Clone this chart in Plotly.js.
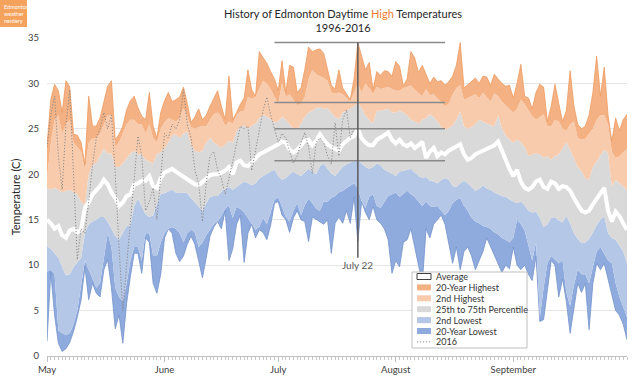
<!DOCTYPE html>
<html><head><meta charset="utf-8">
<script src="https://cdn.plot.ly/plotly-3.0.1.min.js"></script>
<style>html,body{margin:0;padding:0;background:#fff}#chart{width:640px;height:388px}</style>
</head><body><div id="chart"></div>
<script>
const monthTickDates = ['2016-05-01','2016-06-01','2016-07-01','2016-08-01','2016-09-01'];
const monthLabels = ['May','June','July','August','September'];
const markedDate = '2016-07-22';
const markedLabel = 'July 22';

const highest20 = [23.1,28.2,29.9,29.2,26.8,30.3,29.6,24.4,24.3,23.5,
21.1,28.6,25.3,25.3,26.2,27.9,29.7,30.3,23.8,24.4,
25.3,27.1,28.1,28.6,27.3,26.4,26.0,29.0,25.3,24.0,
26.8,28.1,29.0,28.0,28.2,28.5,29.6,27.8,25.7,26.3,
27.2,26.0,26.5,27.5,28.3,29.2,27.5,26.0,30.8,26.0,
26.8,27.7,28.4,31.5,29.3,28.6,33.5,32.8,32.2,31.3,
30.5,29.2,32.5,29.0,32.0,31.8,29.0,29.5,31.5,34.0,
33.5,33.7,33.8,33.3,31.6,29.8,29.4,31.5,29.5,28.9,
28.2,30.5,34.5,33.0,31.5,32.3,29.3,31.3,30.9,31.4,
31.3,30.8,32.4,31.9,29.7,30.5,33.5,32.8,31.2,32.0,
31.0,30.0,30.7,30.2,30.3,29.8,30.2,30.8,32.0,34.5,
29.5,29.9,30.2,30.6,30.0,30.8,30.7,29.8,31.0,30.5,
30.0,29.7,29.8,28.4,30.0,32.1,28.6,28.4,27.2,29.0,
29.9,29.6,25.8,27.5,29.9,27.8,25.8,27.0,31.4,27.5,
25.5,25.0,25.3,26.5,29.0,33.0,28.6,31.8,26.5,23.6,
26.2,24.8,26.0,26.6];

const highest2 = [19.5,23.5,26.0,26.5,24.5,25.5,26.0,23.5,23.0,22.5,
20.5,23.5,24.0,24.0,24.5,25.5,26.5,26.5,23.0,23.5,
24.5,25.5,26.0,26.0,25.5,25.5,24.5,25.5,24.0,23.5,
25.0,25.7,26.2,26.0,25.8,26.2,27.3,26.3,25.2,25.0,
25.2,25.3,25.3,26.0,26.6,26.8,26.3,25.3,25.8,25.6,
26.5,26.9,27.0,28.5,28.3,28.5,29.5,30.3,30.0,29.4,
28.5,27.8,30.0,28.5,28.8,28.2,27.6,27.8,28.5,30.5,
31.5,31.0,30.8,30.6,30.3,29.0,28.9,29.0,28.8,28.4,
28.0,29.0,30.0,29.0,30.0,29.5,28.8,29.6,29.4,29.5,
29.6,29.4,29.2,29.2,29.5,29.6,29.8,29.3,29.0,28.6,
29.4,28.7,28.8,28.4,28.0,27.5,27.8,28.8,29.5,29.8,
28.2,28.4,28.6,28.8,28.4,29.0,28.5,28.0,28.9,28.6,
28.0,27.6,27.3,26.8,27.2,28.2,27.7,27.0,26.4,26.0,
26.3,26.6,25.3,25.3,26.0,25.8,25.0,24.8,25.5,25.8,
24.0,23.8,23.9,24.4,25.0,26.0,26.5,26.5,25.5,22.5,
21.8,22.0,22.4,22.8];

const pct75 = [18.5,18.3,18.5,18.3,18.0,18.2,18.3,18.0,17.8,17.0,
16.6,20.0,21.0,21.3,22.0,22.8,22.3,22.3,20.8,20.8,
21.2,21.8,22.3,22.6,22.2,22.2,21.6,21.4,21.2,22.3,
22.4,22.9,23.5,24.3,24.4,24.0,24.5,24.7,23.3,22.6,
22.4,22.6,23.5,24.0,23.5,23.2,22.9,23.3,23.7,23.5,
24.8,25.2,25.4,25.0,25.3,25.6,26.2,26.5,26.4,26.0,
25.7,25.8,26.3,26.0,25.5,25.0,24.9,25.6,26.3,26.8,
27.0,27.3,27.4,27.2,27.3,26.8,26.3,26.1,26.8,27.0,
27.2,27.5,27.9,27.3,26.5,26.0,25.6,27.0,27.0,27.1,
27.2,26.8,26.8,27.0,26.8,26.5,26.0,25.8,25.6,26.0,
26.2,26.6,26.3,25.8,25.2,24.9,25.1,25.4,26.0,26.9,
25.3,25.0,25.2,25.5,26.0,25.8,25.6,25.4,25.3,26.5,
25.0,24.3,23.8,23.5,23.8,23.5,23.0,22.0,22.2,22.3,
22.2,21.8,22.0,21.6,22.0,22.2,22.8,23.5,22.7,21.8,
20.8,20.4,19.6,19.4,20.8,21.4,22.0,22.7,22.3,18.7,
19.4,19.0,18.6,18.3];

const average = [15.0,14.6,14.0,14.3,13.3,13.0,13.8,14.0,13.6,13.9,
16.3,16.9,17.8,18.2,18.7,19.4,18.9,18.0,17.4,16.5,
16.9,17.6,17.8,18.9,19.0,19.3,19.3,19.8,18.7,18.5,
19.6,20.2,20.4,20.6,20.3,20.0,19.8,19.5,19.2,18.9,
18.8,19.2,19.6,19.9,20.0,20.0,20.2,20.4,20.8,20.0,
21.3,21.5,21.0,20.9,21.3,21.7,22.2,22.4,22.6,22.8,
23.0,23.3,23.6,23.5,22.7,22.4,22.7,23.2,23.7,23.8,
23.2,23.7,24.4,23.8,23.3,23.0,22.8,22.6,23.3,23.7,
24.0,24.2,25.0,24.0,23.5,23.2,23.2,23.8,24.0,24.3,
24.6,23.8,23.4,23.8,23.3,23.1,23.4,22.9,23.2,23.6,
21.8,22.5,22.9,22.0,22.4,22.2,22.6,22.8,23.0,23.3,
22.2,21.6,21.8,22.2,22.4,22.6,22.8,23.0,23.2,23.6,
22.6,21.5,20.6,19.8,20.5,19.2,18.5,18.3,18.6,19.2,
19.4,18.6,18.4,19.2,19.0,18.4,18.7,18.6,18.2,17.4,
16.7,16.0,15.8,16.0,16.7,17.3,18.0,18.5,16.0,14.8,
15.9,15.4,14.6,13.9];

const pct25 = [12.1,11.8,11.3,10.8,9.8,8.9,9.0,9.8,10.3,10.8,
13.5,14.5,14.8,15.0,15.3,15.3,14.8,14.0,13.2,12.8,
13.5,14.3,14.4,16.5,17.3,16.5,15.6,15.3,15.5,16.7,
17.8,17.9,18.1,18.3,18.0,17.9,18.0,17.9,17.4,16.9,
16.4,16.0,16.8,17.5,17.6,17.6,18.1,18.4,18.6,18.3,
18.6,18.8,19.2,19.0,18.8,19.0,19.5,19.8,20.1,20.3,
20.5,19.8,19.4,19.6,20.0,20.3,20.0,19.8,20.2,20.6,
20.3,20.0,20.9,21.2,20.6,20.1,19.8,20.3,20.8,21.1,
21.3,21.4,21.5,21.2,20.8,20.6,20.8,21.2,21.0,20.5,
20.3,20.1,19.8,20.3,20.4,20.5,20.6,20.2,19.8,19.6,
19.7,19.3,19.2,19.0,19.4,19.6,19.4,18.7,18.6,19.0,
19.3,19.0,18.6,18.2,18.4,18.8,18.4,18.3,18.0,17.8,
17.6,17.5,17.2,17.0,16.8,17.0,16.6,16.0,15.8,15.9,
15.2,14.2,14.5,15.2,15.3,14.9,14.7,15.4,14.6,13.5,
12.9,12.4,12.5,12.9,13.6,14.4,15.0,15.4,13.5,13.0,
12.8,12.2,11.5,10.2];

const lowest2 = [9.3,9.5,9.0,2.8,2.5,2.3,2.5,3.5,5.0,7.5,
10.5,9.5,8.5,7.5,8.0,10.5,13.5,12.0,7.5,6.5,
6.0,8.0,10.5,12.0,12.0,10.5,13.5,13.5,11.0,11.0,
12.5,13.5,14.0,14.2,14.0,13.5,12.5,13.5,13.9,13.6,
12.0,12.5,13.3,13.9,14.5,14.8,15.4,16.2,16.6,15.2,
16.4,16.2,15.8,15.2,14.5,13.9,14.2,15.2,14.5,15.8,
17.2,17.5,16.5,15.3,14.8,16.0,16.8,15.5,16.6,17.3,
16.8,16.2,16.0,17.0,17.0,17.4,17.6,18.0,18.2,18.5,
18.8,19.0,18.5,17.0,16.3,17.5,17.8,16.5,16.3,17.0,
17.6,17.8,18.0,17.5,17.8,18.2,17.8,17.5,17.0,16.5,
17.0,16.5,16.4,16.5,16.0,15.5,16.0,16.8,17.2,17.4,
16.5,16.0,15.2,14.8,14.6,14.3,14.2,14.0,13.6,13.4,
13.0,12.8,12.5,13.0,15.0,14.5,13.8,12.0,10.5,12.5,
4.2,7.5,10.2,11.0,10.6,10.2,10.5,7.0,5.5,7.8,
9.5,9.0,9.0,8.0,9.8,11.5,12.0,11.2,10.5,10.2,
8.0,6.5,5.5,4.3];

const lowest20 = [1.6,9.2,4.5,1.4,0.5,0.8,1.5,2.7,4.3,6.2,
9.8,6.2,8.0,6.9,6.5,9.5,10.6,7.5,3.0,4.5,
1.4,5.8,8.75,11.3,11.3,9.1,13.0,12.5,8.0,6.9,
9.0,13.0,14.0,13.5,11.3,10.4,11.0,12.3,13.2,12.3,
10.5,8.6,10.8,13.2,14.2,14.8,14.0,16.0,10.5,11.8,
14.5,15.5,10.3,13.5,14.5,13.0,13.9,13.6,12.8,14.4,
16.8,17.0,15.5,15.0,13.6,15.2,16.0,15.0,14.8,12.6,
15.3,15.0,14.8,14.5,15.0,11.3,14.6,15.3,14.6,16.0,
14.6,17.5,12.6,17.0,15.8,15.0,16.5,15.0,14.6,14.0,
12.8,9.1,10.5,9.8,12.5,12.8,14.0,12.0,10.0,8.0,
14.0,13.0,14.5,15.0,15.5,14.5,12.5,10.2,12.0,9.5,
11.5,12.0,11.0,9.5,10.5,11.5,13.0,12.0,11.0,10.0,
9.2,10.0,9.6,12.0,10.0,9.5,10.0,9.0,8.3,11.0,
3.8,4.0,7.5,10.5,10.0,6.5,8.5,6.0,2.5,5.5,
8.0,7.0,8.0,2.9,8.0,10.2,9.5,10.2,8.5,6.5,
5.0,4.5,3.5,1.8];

const year2016 = [23.0,26.5,28.6,22.0,18.3,25.5,29.3,20.0,10.6,14.0,
13.5,17.0,21.0,24.0,25.0,26.8,25.0,26.5,20.0,12.0,
5.0,10.0,15.0,20.0,24.2,22.0,16.0,17.0,18.5,15.0,
20.0,24.5,24.0,25.5,25.0,26.0,29.3,25.5,24.0,20.5,
19.0,14.8,19.0,22.0,22.5,20.5,19.5,17.8,19.5,21.5,
23.5,25.3,25.0,25.3,20.4,22.5,24.5,27.0,28.5,26.5,
25.0,23.5,24.5,24.0,22.5,21.2,22.0,23.5,24.6,23.0,
20.1,23.5,24.0,23.5,22.0,21.1,25.7,22.0,26.0,27.1,
24.0,25.0,25.0];

const legendLabels = ['Average','20-Year Highest','2nd Highest','25th to 75th Percentile','2nd Lowest','20-Year Lowest','2016'];

// categories: consecutive days from May 1, 2016
const dates = [];
for (let i = 0; i < highest20.length; i++) {
  dates.push(new Date(Date.UTC(2016, 4, 1 + i)).toISOString().slice(0, 10));
}

const C = {
  hi20: '#F4B183', hi2: '#F8CBAD', mid: '#D9D9D9', lo2: '#B4C7E7', lo20: '#8FAADC',
  hiEdge: '#EE9B60', loEdge: '#7393CC', y2016: '#8A8A8A'
};
const dotted = '1.2px,1.8px';

const base = {type: 'scatter', mode: 'lines', x: dates, hoverinfo: 'skip', showlegend: false};
const traces = [
  Object.assign({}, base, {y: lowest20, line: {color: C.loEdge, width: 0.8}, name: 'min'}),
  Object.assign({}, base, {y: lowest2, fill: 'tonexty', fillcolor: C.lo20, line: {width: 0}, name: '20-Year Lowest'}),
  Object.assign({}, base, {y: pct25, fill: 'tonexty', fillcolor: C.lo2, line: {width: 0}, name: '2nd Lowest'}),
  Object.assign({}, base, {y: pct75, fill: 'tonexty', fillcolor: C.mid, line: {width: 0}, name: '25th to 75th Percentile'}),
  Object.assign({}, base, {y: highest2, fill: 'tonexty', fillcolor: C.hi2, line: {width: 0}, name: '2nd Highest'}),
  Object.assign({}, base, {y: highest20, fill: 'tonexty', fillcolor: C.hi20, line: {color: C.hiEdge, width: 0.8}, name: '20-Year Highest'}),
  Object.assign({}, base, {y: average, line: {color: '#FFFFFF', width: 4}, name: 'Average'}),
  Object.assign({}, base, {x: dates.slice(0, year2016.length), y: year2016, line: {color: C.y2016, width: 1, dash: dotted}, name: '2016'})
];

// pixel helpers for decorations (plot area 47..627 x 38..356)
const L = 47, R = 13, T = 38, B = 32, W = 640, H = 388;
const pw = W - L - R, ph = H - T - B;
const px = v => (v - L) / pw;
const py = v => (H - B - v) / ph;

const mi = dates.indexOf(markedDate);
const spanL = dates[mi - 22], spanR = dates[mi + 23];
const refVals = [highest20[mi], pct75[mi], average[mi], pct25[mi]];

const shapes = [];
refVals.forEach(v => shapes.push({type: 'line', xref: 'x', yref: 'y', x0: spanL, x1: spanR, y0: v, y1: v,
  line: {color: '#8A8A8A', width: 1.5}}));
shapes.push({type: 'line', xref: 'x', yref: 'y', x0: markedDate, x1: markedDate, y0: 10.8, y1: highest20[mi],
  line: {color: '#5A5A5A', width: 1.5}});

// legend box
shapes.push({type: 'rect', xref: 'paper', yref: 'paper', x0: px(412), x1: px(527), y0: py(348), y1: py(272),
  fillcolor: '#FFFFFF', line: {color: '#BFBFBF', width: 1}});
const legFills = [null, C.hi20, C.hi2, C.mid, C.lo2, C.lo20, null];
const annotations = [];
legendLabels.forEach((lab, i) => {
  const yc = 276.5 + i * 10.9;
  if (i === 0) {
    shapes.push({type: 'rect', xref: 'paper', yref: 'paper', x0: px(417), x1: px(431), y0: py(yc + 3), y1: py(yc - 3),
      fillcolor: '#FFFFFF', line: {color: '#404040', width: 1}});
  } else if (i === legendLabels.length - 1) {
    shapes.push({type: 'line', xref: 'paper', yref: 'paper', x0: px(417), x1: px(431), y0: py(yc), y1: py(yc),
      line: {color: C.y2016, width: 1, dash: dotted}});
  } else {
    shapes.push({type: 'rect', xref: 'paper', yref: 'paper', x0: px(417), x1: px(431), y0: py(yc + 3), y1: py(yc - 3),
      fillcolor: legFills[i], line: {width: 0}});
  }
  annotations.push({xref: 'paper', yref: 'paper', x: px(434), y: py(yc), xanchor: 'left', yanchor: 'middle',
    text: lab, showarrow: false, font: {family: 'Lato, sans-serif', size: 9, color: '#333333'}});
});

annotations.push({xref: 'x', yref: 'y', x: markedDate, y: 10.0, text: markedLabel, showarrow: false,
  xanchor: 'center', yanchor: 'middle', font: {family: 'Lato, sans-serif', size: 10, color: '#595959'}});

// logo
shapes.push({type: 'rect', xref: 'paper', yref: 'paper', x0: px(0), x1: px(27), y0: py(27), y1: py(0),
  fillcolor: '#F5A25D', line: {width: 0}});
annotations.push({xref: 'paper', yref: 'paper', x: px(1.5), y: py(1.5), xanchor: 'left', yanchor: 'top',
  text: 'Edmonton<br>weather<br>nerdery', align: 'left', showarrow: false,
  font: {family: 'Lato, sans-serif', size: 5.5, color: '#FFFFFF'}});

const layout = {
  width: W, height: H,
  margin: {l: L, r: R, t: T, b: B, pad: 0},
  paper_bgcolor: '#FFFFFF', plot_bgcolor: '#FFFFFF',
  showlegend: false,
  title: {
    text: 'History of Edmonton Daytime <span style="color:#ED7D31">High</span> Temperatures<br>1996-2016',
    x: 343 / W, xanchor: 'center', xref: 'container',
    y: 1 - 18 / H, yanchor: 'top', yref: 'container',
    font: {family: 'Lato, sans-serif', size: 11, color: '#262626'}
  },
  xaxis: {
    type: 'date', range: ['2016-05-01', '2016-10-01'],
    tickmode: 'array', tickvals: monthTickDates, ticktext: monthLabels,
    ticks: 'outside', ticklen: 5, tickcolor: '#BFBFBF', tickwidth: 1,
    showline: true, linecolor: '#BFBFBF', linewidth: 1,
    showgrid: false, zeroline: false,
    tickfont: {family: 'Lato, sans-serif', size: 9.5, color: '#404040'},
    minor: {ticks: 'outside', ticklen: 3, tickcolor: '#C8C8C8', tick0: '2016-05-01', dtick: 86400000, showgrid: false}
  },
  yaxis: {
    range: [0, 35], tick0: 0, dtick: 5,
    showgrid: true, gridcolor: '#E6E6E6', gridwidth: 1,
    zeroline: false, showline: false, ticks: '',
    ticklabelstandoff: 7,
    tickfont: {family: 'Lato, sans-serif', size: 9.5, color: '#404040'},
    title: {text: 'Temperature (C)', standoff: 5, font: {family: 'Lato, sans-serif', size: 11, color: '#262626'}}
  },
  shapes: shapes,
  annotations: annotations
};

Plotly.newPlot('chart', traces, layout, {staticPlot: true, displayModeBar: false});
</script>
</body></html>
